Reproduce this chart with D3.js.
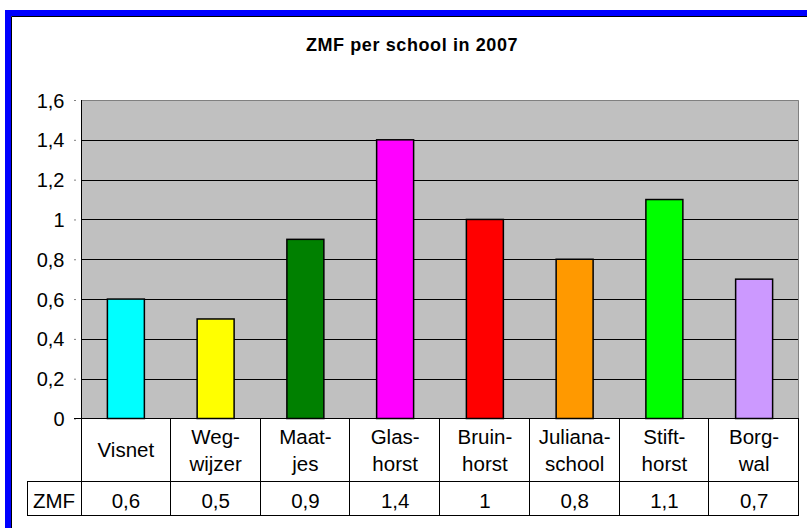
<!DOCTYPE html>
<html>
<head>
<meta charset="utf-8">
<script src="https://cdn.jsdelivr.net/npm/d3@7"></script>
<style>
  html, body { margin: 0; padding: 0; background: #fff; }
  svg { display: block; }
  text { font-family: "Liberation Sans", Arial, sans-serif; fill: #000; }
</style>
</head>
<body>
<svg id="chart" width="807" height="528"></svg>
<script>
// ---- data ----
const title = "ZMF per school in 2007";
const categories = ["Visnet", "Wegwijzer", "Maatjes", "Glashorst", "Bruinhorst", "Julianaschool", "Stifthorst", "Borgwal"];
const categoryLines = [["Visnet"], ["Weg-", "wijzer"], ["Maat-", "jes"], ["Glas-", "horst"], ["Bruin-", "horst"], ["Juliana-", "school"], ["Stift-", "horst"], ["Borg-", "wal"]];
const seriesName = "ZMF";
const values = [0.6, 0.5, 0.9, 1.4, 1.0, 0.8, 1.1, 0.7];
const barColors = ["#00FFFF", "#FFFF00", "#008000", "#FF00FF", "#FF0000", "#FF9900", "#00FF00", "#CC99FF"];
const yTicks = [0, 0.2, 0.4, 0.6, 0.8, 1.0, 1.2, 1.4, 1.6];

// ---- layout ----
const svg = d3.select("#chart");
const plotLeft = 81, plotRight = 799, plotTop = 100, zeroY = 418.5;
const row1Bottom = 481, row2Bottom = 515, tableLeft = 27;
const labelSize = "20.5px";

const nl = d3.formatLocale({decimal: ",", thousands: ".", grouping: [3], currency: ["€", ""]});
const fmt = v => nl.format("~g")(v);

const y = d3.scaleLinear().domain([0, 1.6]).range([zeroY, plotTop]);
const xCol = d3.scaleBand().domain(categories).range([plotLeft, plotRight]).padding(0);
const pad = 0.588;
const xBar = d3.scaleBand().domain(categories).range([plotLeft, plotRight]).paddingInner(pad).paddingOuter(pad / 2);

// blue frame
svg.append("rect").attr("x", 8).attr("y", 13).attr("width", 900).attr("height", 600)
  .attr("fill", "none").attr("stroke", "#0000FF").attr("stroke-width", 6);
svg.append("path").attr("d", `M11.5,600 V16.5 H900`).attr("fill", "none").attr("stroke", "#000").attr("stroke-width", 1);

// title
svg.append("text").attr("x", 412).attr("y", 51).attr("text-anchor", "middle")
  .style("font-size", "18px").style("font-weight", "bold").style("letter-spacing", "0.6px")
  .text(title);

// plot background
svg.append("rect").attr("x", plotLeft).attr("y", plotTop).attr("width", plotRight - plotLeft).attr("height", zeroY - plotTop)
  .attr("fill", "#C0C0C0");

// gridlines
svg.append("g").selectAll("line").data(yTicks.filter(t => t > 0 && t < 1.6)).join("line")
  .attr("x1", plotLeft).attr("x2", plotRight)
  .attr("y1", d => Math.round(y(d)) + 0.5).attr("y2", d => Math.round(y(d)) + 0.5)
  .attr("stroke", "#000").attr("stroke-width", 1);

// plot border top/right
svg.append("path").attr("d", `M${plotLeft},${plotTop + 0.5} H${plotRight - 0.5} V${zeroY}`)
  .attr("fill", "none").attr("stroke", "#808080").attr("stroke-width", 1);

// bars
svg.append("g").selectAll("rect").data(values).join("rect")
  .attr("x", (d, i) => xBar(categories[i]))
  .attr("y", d => y(d))
  .attr("width", xBar.bandwidth())
  .attr("height", d => zeroY - y(d))
  .attr("fill", (d, i) => barColors[i])
  .attr("stroke", "#000").attr("stroke-width", 1.5);

// y axis
const yAxis = d3.axisLeft(y).tickValues(yTicks).tickSize(6).tickPadding(11).tickFormat(fmt);
const gy = svg.append("g").attr("transform", `translate(${plotLeft + 0.5},0)`).call(yAxis);
gy.select(".domain").attr("stroke", "#000").attr("d", `M0,${plotTop}V${row2Bottom}`);
gy.selectAll(".tick line").attr("stroke", "#000").attr("x1", -7);
gy.selectAll(".tick text").style("font-size", "20px").attr("dy", "0.35em");

// data table
const t = svg.append("g").attr("stroke", "#000").attr("stroke-width", 1).attr("fill", "none");
t.append("line").attr("x1", plotLeft - 7).attr("x2", plotRight).attr("y1", zeroY).attr("y2", zeroY);
t.append("line").attr("x1", tableLeft).attr("x2", plotRight).attr("y1", row1Bottom + 0.5).attr("y2", row1Bottom + 0.5);
t.append("line").attr("x1", tableLeft).attr("x2", plotRight).attr("y1", row2Bottom + 0.5).attr("y2", row2Bottom + 0.5);
t.append("line").attr("x1", tableLeft + 0.5).attr("x2", tableLeft + 0.5).attr("y1", row1Bottom).attr("y2", row2Bottom);
t.selectAll("line.col").data(categories).join("line").attr("class", "col")
  .attr("x1", d => Math.round(xCol(d) + xCol.bandwidth()) - 0.5)
  .attr("x2", d => Math.round(xCol(d) + xCol.bandwidth()) - 0.5)
  .attr("y1", zeroY).attr("y2", row2Bottom);

// category labels
const cl = svg.append("g").selectAll("text").data(categories).join("text")
  .attr("text-anchor", "middle").style("font-size", labelSize)
  .attr("x", d => xCol(d) + xCol.bandwidth() / 2)
  .attr("y", (d, i) => categoryLines[i].length === 1 ? 457 : 444);
cl.selectAll("tspan").data((d, i) => categoryLines[i]).join("tspan")
  .attr("x", function() { return this.parentNode.getAttribute("x"); })
  .attr("dy", (d, j) => j === 0 ? 0 : 26.5)
  .text(d => d);

// series row
svg.append("text").attr("x", (tableLeft + plotLeft) / 2).attr("y", 508).attr("text-anchor", "middle")
  .style("font-size", labelSize).text(seriesName);
svg.append("g").selectAll("text").data(values).join("text")
  .attr("x", (d, i) => xCol(categories[i]) + xCol.bandwidth() / 2)
  .attr("y", 508).attr("text-anchor", "middle").style("font-size", labelSize)
  .text(d => fmt(d));
</script>
</body>
</html>
